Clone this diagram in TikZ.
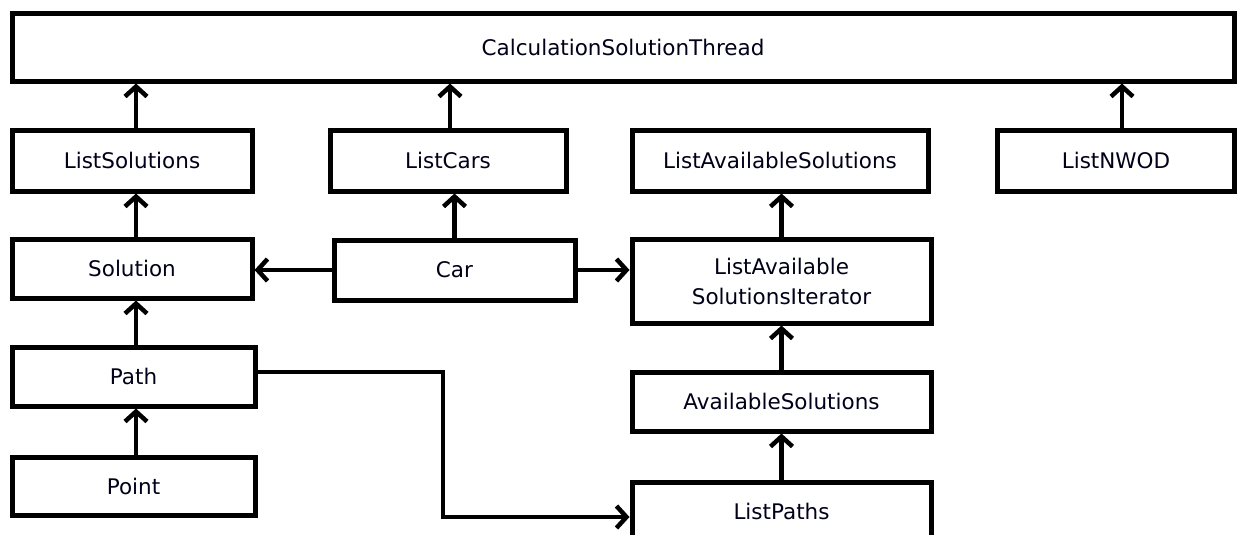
\documentclass[tikz,border=0pt]{standalone}
\usepackage{fontspec}
\setmainfont{DejaVu Sans}
\usetikzlibrary{arrows.meta}
\tikzset{
  cls/.style={draw=black, line width=5pt, fill=white, inner sep=0pt,
    font=\fontsize{21.5pt}{30pt}\selectfont, text=black!90!blue, align=center},
  arr/.style={draw=black, line width=4.5pt, line join=miter,
    -{Straight Barb[length=10pt, width=22pt, line width=4.5pt]}},
}
\begin{document}
\begin{tikzpicture}[x=1pt, y=-1pt]
  \useasboundingbox (0,0) rectangle (1239,535);
  \clip (0,0) rectangle (1239,535);
  \fill[white] (0,0) rectangle (1239,535);

  % top-level thread
  \node[cls, minimum width=1222pt, minimum height=67pt] (cst) at (623,47.5) {CalculationSolutionThread};

  % lists
  \node[cls, minimum width=240pt, minimum height=61pt] (lsol) at (132,160.5) {ListSolutions};
  \node[cls, minimum width=236pt, minimum height=61pt] (lcars) at (448,160.5) {ListCars};
  \node[cls, minimum width=296pt, minimum height=61pt] (las) at (780,160.5) {ListAvailableSolutions};
  \node[cls, minimum width=237pt, minimum height=61pt] (nwod) at (1116,160.5) {ListNWOD};

  % middle row
  \node[cls, minimum width=240pt, minimum height=59pt] (sol) at (132,268.5) {Solution};
  \node[cls, minimum width=241pt, minimum height=60pt] (car) at (454.5,270) {Car};
  \node[cls, minimum width=299pt, minimum height=84pt] (lasi) at (781.5,281) {ListAvailable\\SolutionsIterator};

  % lower rows
  \node[cls, minimum width=243pt, minimum height=59pt] (path) at (133.5,376.5) {Path};
  \node[cls, minimum width=243pt, minimum height=58pt] (point) at (133.5,486) {Point};
  \node[cls, minimum width=299pt, minimum height=59pt] (avs) at (781.5,401.5) {AvailableSolutions};
  \node[cls, minimum width=299pt, minimum height=59pt] (lp) at (781.5,511.5) {ListPaths};

  % connectors into the thread
  \draw[arr] ([xshift=4pt]lsol.north) -- ([xshift=4pt]lsol.north |- cst.south);
  \draw[arr] ([xshift=2pt]lcars.north) -- ([xshift=2pt]lcars.north |- cst.south);
  \draw[arr] ([xshift=6pt]nwod.north) -- ([xshift=6pt]nwod.north |- cst.south);

  % connectors between classes
  \draw[arr] ([xshift=4pt]sol.north) -- ([xshift=4pt]sol.north |- lsol.south);
  \draw[arr] (car.north) -- (car.north |- lcars.south);
  \draw[arr] (lasi.north) -- (lasi.north |- las.south);
  \draw[arr] (car.west) -- (car.west -| sol.east);
  \draw[arr] (car.east) -- (car.east -| lasi.west);
  \draw[arr] ([xshift=2.5pt]path.north) -- ([xshift=2.5pt]path.north |- sol.south);
  \draw[arr] ([xshift=2.5pt]point.north) -- ([xshift=2.5pt]point.north |- path.south);
  \draw[arr] (avs.north) -- (avs.north |- lasi.south);
  \draw[arr] (lp.north) -- (lp.north |- avs.south);

  \coordinate (bend) at (443,372);
  \coordinate (entry) at (0,517);
  \draw[arr] (path.east |- bend) -- (bend) |- (lp.west |- entry);
\end{tikzpicture}
\end{document}
